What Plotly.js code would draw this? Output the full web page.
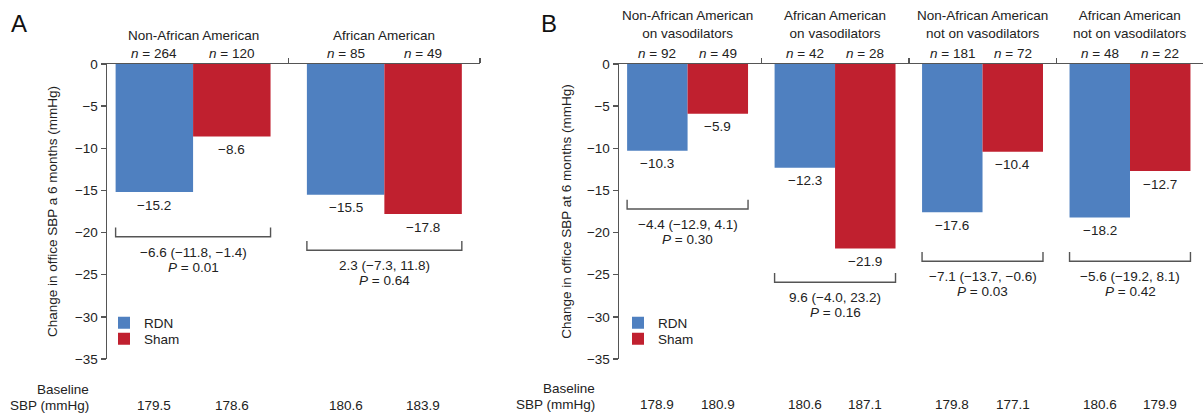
<!DOCTYPE html>
<html>
<head>
<meta charset="utf-8">
<script src="https://cdn.plot.ly/plotly-3.0.1.min.js"></script>
<style>html,body{margin:0;padding:0;background:#fff;}#chart{width:1204px;height:414px;}</style>
</head>
<body>
<div id="chart"></div>
<script>
// ---------- DATA ----------
const groupsA = ["Non-African American", "African American"];
const nRdnA = [264, 85];
const nShamA = [120, 49];
const rdnA = [-15.2, -15.5];
const shamA = [-8.6, -17.8];
const baseRdnA = ["179.5", "180.6"];
const baseShamA = ["178.6", "183.9"];
const diffA = ["−6.6 (−11.8, −1.4)", "2.3 (−7.3, 11.8)"];
const pA = ["0.01", "0.64"];

const groupsB = ["Non-African American<br>on vasodilators", "African American<br>on vasodilators",
                 "Non-African American<br>not on vasodilators", "African American<br>not on vasodilators"];
const nRdnB = [92, 42, 181, 48];
const nShamB = [49, 28, 72, 22];
const rdnB = [-10.3, -12.3, -17.6, -18.2];
const shamB = [-5.9, -21.9, -10.4, -12.7];
const baseRdnB = ["178.9", "180.6", "179.8", "180.6"];
const baseShamB = ["180.9", "187.1", "177.1", "179.9"];
const diffB = ["−4.4 (−12.9, 4.1)", "9.6 (−4.0, 23.2)", "−7.1 (−13.7, −0.6)", "−5.6 (−19.2, 8.1)"];
const pB = ["0.30", "0.16", "0.03", "0.42"];

// ---------- LAYOUT CONSTANTS ----------
const W = 1204, H = 414;
const blue = "#4f80c0", red = "#c0202f";
const txt = "#222222", axc = "#555555";
const FONT = "Liberation Sans, Arial, sans-serif";
const FS = 13.5;
const wA = 0.405, wB = 0.41;            // bar widths (category units)
const bracketLevelA = [-20.5, -22.1];   // bracket bottom levels
const bracketLevelB = [-17.2, -25.9, -23.4, -23.4];
const bracketH = 1.1;

const py = px => 1 - px / H;
const pxX = px => px / W;

function barTraces(groups, rdn, sham, w, xa, ya, legR, legS) {
  const idx = groups.map((_, i) => i);
  return [
    {type: "bar", name: "RDN", x: idx, y: rdn, width: w, offset: -w, xaxis: xa, yaxis: ya,
     marker: {color: blue, line: {width: 0}}, legend: legR, hoverinfo: "y"},
    {type: "bar", name: "Sham", x: idx, y: sham, width: w, offset: 0, xaxis: xa, yaxis: ya,
     marker: {color: red, line: {width: 0}}, legend: legS, hoverinfo: "y"}
  ];
}

const data = [
  ...barTraces(groupsA, rdnA, shamA, wA, "x", "y", "legend", "legend2"),
  ...barTraces(groupsB, rdnB, shamB, wB, "x2", "y2", "legend3", "legend4")
];

const annotations = [];
const shapes = [];
const fmt = v => (v < 0 ? "−" : "") + Math.abs(v).toFixed(1);
const A = o => Object.assign({showarrow: false, xanchor: "center", yanchor: "middle",
  font: {size: FS, color: txt}}, o);

function panelAnn(groups, nR, nS, rdn, sham, bR, bS, diff, p, w, xr, yr, lvl, labelY, nY, baseY) {
  groups.forEach((g, i) => {
    annotations.push(A({xref: xr, yref: "paper", x: i, y: py(labelY), text: g}));
    annotations.push(A({xref: xr, yref: "paper", x: i - w / 2, y: py(nY), text: "<i>n</i> = " + nR[i]}));
    annotations.push(A({xref: xr, yref: "paper", x: i + w / 2, y: py(nY), text: "<i>n</i> = " + nS[i]}));
    annotations.push(A({xref: xr, yref: yr, x: i - w / 2, y: rdn[i], yshift: -13, text: fmt(rdn[i])}));
    annotations.push(A({xref: xr, yref: yr, x: i + w / 2, y: sham[i], yshift: -13, text: fmt(sham[i])}));
    const b = lvl[i];
    shapes.push({type: "path", xref: xr, yref: yr,
      path: `M${i - w},${b + bracketH} L${i - w},${b} L${i + w},${b} L${i + w},${b + bracketH}`,
      line: {color: axc, width: 1.4}});
    annotations.push(A({xref: xr, yref: yr, x: i, y: b, yshift: -15.5, text: diff[i]}));
    annotations.push(A({xref: xr, yref: yr, x: i, y: b, yshift: -30.5, text: "<i>P</i> = " + p[i]}));
    annotations.push(A({xref: xr, yref: "paper", x: i - w / 2, y: py(baseY), text: bR[i]}));
    annotations.push(A({xref: xr, yref: "paper", x: i + w / 2, y: py(baseY), text: bS[i]}));
  });
}
panelAnn(groupsA, nRdnA, nShamA, rdnA, shamA, baseRdnA, baseShamA, diffA, pA, wA, "x", "y", bracketLevelA, 36, 53, 405);
panelAnn(groupsB, nRdnB, nShamB, rdnB, shamB, baseRdnB, baseShamB, diffB, pB, wB, "x2", "y2", bracketLevelB, 24, 53, 404);

// Baseline row labels & panel letters
annotations.push(A({xref: "paper", yref: "paper", x: pxX(91), y: py(389), xanchor: "right", text: "Baseline"}));
annotations.push(A({xref: "paper", yref: "paper", x: pxX(91), y: py(405), xanchor: "right", text: "SBP (mmHg)"}));
annotations.push(A({xref: "paper", yref: "paper", x: pxX(597), y: py(388), xanchor: "right", text: "Baseline"}));
annotations.push(A({xref: "paper", yref: "paper", x: pxX(597), y: py(404), xanchor: "right", text: "SBP (mmHg)"}));
annotations.push(A({xref: "paper", yref: "paper", x: pxX(19), y: py(23), text: "A", font: {size: 24, color: "#111"}}));
annotations.push(A({xref: "paper", yref: "paper", x: pxX(549), y: py(23), text: "B", font: {size: 24, color: "#111"}}));

const yDom = [py(359), py(64)];
const yCommon = {range: [-35, 0], dtick: 5, tick0: 0, showline: true, linecolor: axc, linewidth: 1.5,
  ticks: "outside", ticklen: 5, tickcolor: axc, tickwidth: 1.5, showgrid: false, zeroline: false,
  tickfont: {size: 13.5, color: txt}, domain: yDom, fixedrange: true};
const xCommon = {side: "top", showline: true, linecolor: axc, linewidth: 1.5, ticks: "outside",
  ticklen: 5, tickcolor: axc, tickwidth: 1.5, showticklabels: false, showgrid: false, zeroline: false,
  fixedrange: true, tickmode: "linear", tick0: -0.5, dtick: 1};
const leg = (xpx, ypx) => ({x: pxX(xpx), y: py(ypx), xanchor: "left", yanchor: "middle",
  bgcolor: "rgba(0,0,0,0)", borderwidth: 0, font: {size: FS, color: txt}, itemwidth: 30});

const layout = {
  width: W, height: H, margin: {l: 0, r: 0, t: 0, b: 0},
  paper_bgcolor: "#fff", plot_bgcolor: "rgba(0,0,0,0)",
  font: {family: FONT, size: FS, color: txt},
  showlegend: true,
  xaxis: Object.assign({}, xCommon, {domain: [pxX(107), pxX(480)], range: [-0.45, 1.5], anchor: "y"}),
  yaxis: Object.assign({}, yCommon, {anchor: "x",
    title: {text: "Change in office SBP a 6 months (mmHg)", font: {size: FS, color: txt}, standoff: 14}}),
  xaxis2: Object.assign({}, xCommon, {domain: [pxX(619), pxX(1203)], range: [-0.465, 3.495], anchor: "y2"}),
  yaxis2: Object.assign({}, yCommon, {anchor: "x2",
    title: {text: "Change in office SBP at 6 months (mmHg)", font: {size: FS, color: txt}, standoff: 12}}),
  legend: leg(104, 323),
  legend2: leg(104, 339),
  legend3: leg(618, 323),
  legend4: leg(618, 339),
  annotations: annotations,
  shapes: shapes
};

Plotly.newPlot("chart", data, layout, {displayModeBar: false, staticPlot: true});
</script>
</body>
</html>
